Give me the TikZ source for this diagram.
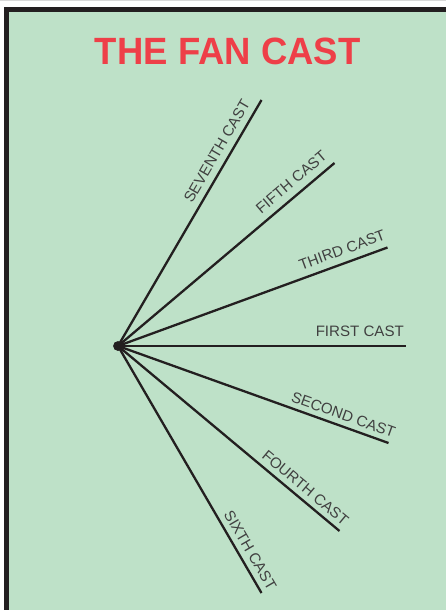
\documentclass[tikz,border=0pt]{standalone}
\usepackage{fontspec}
\newfontfamily\labfont{Liberation Sans}
\definecolor{bggreen}{HTML}{BEE1C8}
\definecolor{frame}{HTML}{231F20}
\definecolor{titlered}{HTML}{EE3F48}
\definecolor{labgray}{HTML}{404040}
\tikzset{
  ray/.style={draw=frame, line width=2.3pt},
  lab/.style={sloped, anchor=south east, inner xsep=0.5pt, inner ysep=7pt, text depth=0pt,
    font=\labfont\fontsize{15.1}{16}\selectfont, text=labgray},
  hub/.style={circle, fill=frame, inner sep=0pt, minimum size=9.5pt}
}
\begin{document}
\begin{tikzpicture}[x=1pt,y=-1pt]
\useasboundingbox (0,0) rectangle (446,610);
\fill[white] (0,0) rectangle (446,610);
\fill[black!15] (0,0) rectangle (446,1);
\fill[frame] (3.5,7) rectangle (446,610);
\fill[bggreen] (9,12.5) rectangle (446,610);
\node[font=\labfont\bfseries\fontsize{38}{40}\selectfont, text=titlered, anchor=base, inner sep=0pt, xscale=0.96] (title) at (227.7,64.3) {THE FAN CAST};
\coordinate (e7) at (261.5,100);
\coordinate (e5) at (334.5,163);
\coordinate (e3) at (387.5,247.5);
\coordinate (e1) at (405.5,346);
\coordinate (e2) at (388.5,443);
\coordinate (e4) at (339.5,531);
\coordinate (e6) at (261.5,593);
\node[hub] (c) at (118,346) {};
\draw[ray] (c.center) -- (e7) node[lab, pos=0.975, inner ysep=6.5pt] {SEVENTH CAST};
\draw[ray] (c.center) -- (e5) node[lab, pos=1] {FIFTH CAST};
\draw[ray] (c.center) -- (e3) node[lab, pos=1.012] {THIRD CAST};
\draw[ray] (c.center) -- (e1) node[lab, pos=1, inner ysep=8pt] {FIRST CAST};
\draw[ray] (c.center) -- (e2) node[lab, pos=1.015, inner ysep=5pt] {SECOND CAST};
\draw[ray] (c.center) -- (e4) node[lab, pos=1.005, inner ysep=5pt] {FOURTH CAST};
\draw[ray] (c.center) -- (e6) node[lab, pos=1.012, inner ysep=5.5pt] {SIXTH CAST};
\node[hub] at (c) {};
\end{tikzpicture}
\end{document}
